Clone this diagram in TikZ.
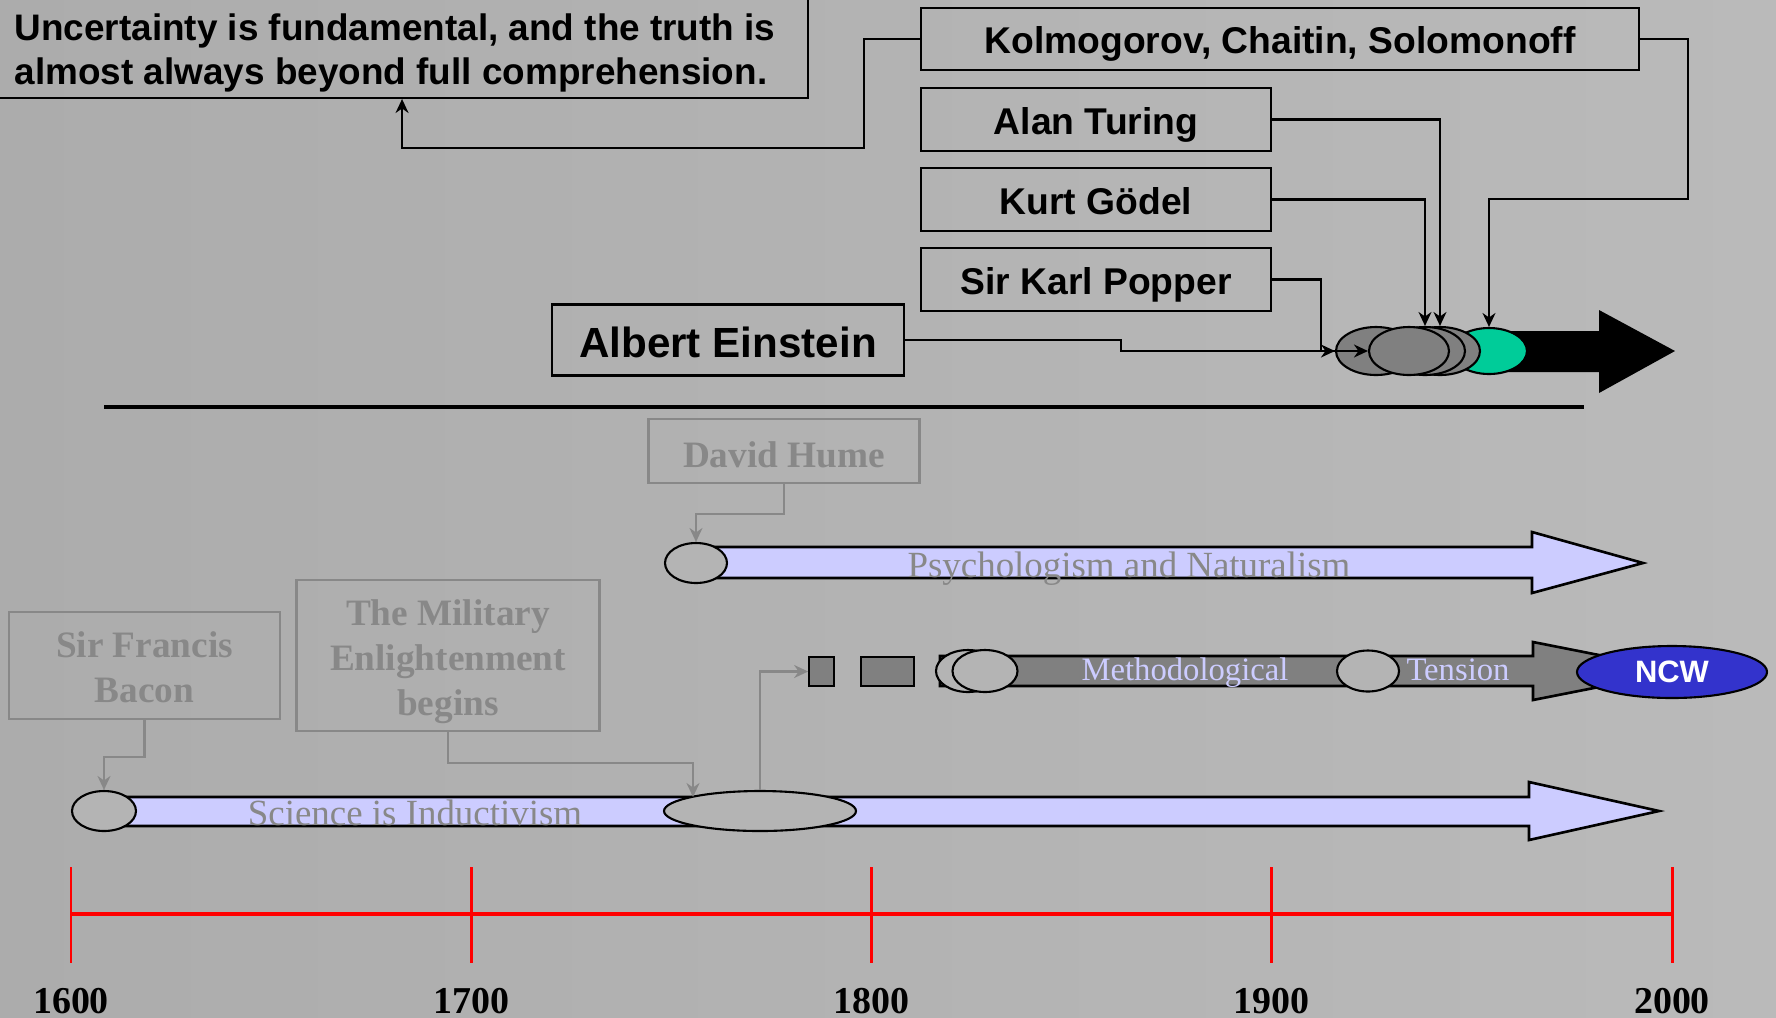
\documentclass[tikz,border=0pt]{standalone}
\usepackage{fontspec}
\setmainfont{Liberation Serif}
\newfontfamily\arialfont{Liberation Sans}
\usetikzlibrary{shapes.geometric,arrows.meta}
\definecolor{bgleft}{RGB}{172,172,172}
\definecolor{bgright}{RGB}{186,186,186}
\definecolor{blobgray}{RGB}{180,180,180}
\definecolor{midgray}{RGB}{128,128,128}
\definecolor{ghost}{RGB}{136,136,136}
\definecolor{lav}{RGB}{204,204,255}
\definecolor{mint}{RGB}{0,204,153}
\definecolor{ncwblue}{RGB}{51,51,204}
\tikzset{namebox/.style={draw=black, line width=0.6pt, inner sep=0pt, text height=8.5pt, text depth=0pt, font=\arialfont\bfseries\fontsize{10.6}{12.5}\selectfont},
         ghostbox/.style={draw=ghost, line width=0.6pt, inner sep=0pt, text=ghost, align=center, text depth=0pt, font=\bfseries\fontsize{10.6}{12.8}\selectfont},
         conn/.style={draw=black, line width=0.6pt, -{Stealth[length=1.4mm,width=1.3mm]}},
         ghostconn/.style={conn, draw=ghost},
         blob/.style={ellipse, draw=black, line width=0.6pt, inner sep=0pt},
         bigarrow/.style={draw=black, line width=0.75pt, line join=miter},
         flowtext/.style={inner sep=0pt, anchor=base, font=\fontsize{10.5}{12}\selectfont}}

\begin{document}
\begin{tikzpicture}[x=0.1mm,y=-0.1mm]
  \useasboundingbox (0,0) rectangle (1776,1017);
  \shade[left color=bgleft, right color=bgright] (0,0) rectangle (1776,1017);

  % upper half
  \node[namebox, minimum width=81.2mm, minimum height=13mm, anchor=south west] (truth) at (-5,99) {};
  \node[anchor=west, align=left, inner sep=0pt, font=\arialfont\bfseries\fontsize{10.5}{12.5}\selectfont] (truthtext) at (14,53)
       {Uncertainty is fundamental, and the truth is\\almost always beyond full comprehension.};
  \node[namebox, minimum width=71.8mm, minimum height=6.2mm] (kcs)    at (1280,39)    {Kolmogorov, Chaitin, Solomonoff};
  \node[namebox, minimum width=35mm,   minimum height=6.3mm] (turing) at (1096,119.5) {Alan Turing};
  \node[namebox, minimum width=35mm,   minimum height=6.3mm] (goedel) at (1096,199.5) {Kurt Gödel};
  \node[namebox, minimum width=35mm,   minimum height=6.3mm] (popper) at (1096,279.5) {Sir Karl Popper};
  \node[namebox, minimum width=35.2mm, minimum height=7.1mm, text height=10.2pt, font=\arialfont\bfseries\fontsize{12}{14}\selectfont] (einstein) at (728,340) {Albert Einstein};

  \fill (1480,331) -- (1599,331) -- (1599,310) -- (1675,351) -- (1599,393) -- (1599,372) -- (1480,372) -- cycle;
  \node[blob, fill=mint,    minimum width=7.6mm, minimum height=4.6mm] (green) at (1489,351) {};
  \node[blob, fill=midgray, minimum width=8mm,   minimum height=4.8mm] (c4)    at (1440,351) {};
  \node[blob, fill=midgray, minimum width=8mm,   minimum height=4.8mm] (c3)    at (1425,351) {};
  \node[blob, fill=midgray, minimum width=8mm,   minimum height=4.8mm] (c1)    at (1376,351) {};
  \node[blob, fill=midgray, minimum width=8mm,   minimum height=4.8mm] (c2)    at (1409,351) {};

  \draw[conn] (kcs.west) -- (864,39) -- (864,148) -| (truth.south);
  \draw[conn] (kcs.east) -| (1688,199) -| (green.north);
  \draw[conn] (turing.east) -| (c4.north);
  \draw[conn] (goedel.east) -| (c3.north);
  \draw[conn] (popper.east) -| (1321,351) -- (c2.west);
  \draw[conn] (einstein.east) -| (1121,351) -- (c1.west);

  \draw[line width=1.4pt] (104,407) -- (1584,407);

  % lower half
  \node[ghostbox, minimum width=27.1mm, minimum height=6.4mm,  text height=9.1pt]  (hume)     at (784,451)     {David Hume};
  \node[ghostbox, minimum width=27.1mm, minimum height=10.7mm, text height=21.3pt] (bacon)    at (144.5,665.5) {Sir Francis\\Bacon};
  \node[ghostbox, minimum width=30.3mm, minimum height=15.1mm, text height=33.9pt] (military) at (448,655.5)   {The Military\\Enlightenment\\begins};

  \draw[bigarrow, fill=lav] (696,547) -- (1532,547) -- (1532,532) -- (1643,563) -- (1532,593) -- (1532,578) -- (696,578) -- cycle;
  \node[blob, fill=blobgray, minimum width=6.2mm, minimum height=4mm] (psyell) at (696,563) {};
  \node[flowtext, text=ghost] (psytext) at (1129,577) {Psychologism and Naturalism};

  \node[draw=black, line width=0.5pt, fill=midgray, minimum width=2.5mm, minimum height=2.9mm, inner sep=0pt] (rect1) at (821.5,671.5) {};
  \node[draw=black, line width=0.5pt, fill=midgray, minimum width=5.3mm, minimum height=2.9mm, inner sep=0pt] (rect2) at (887.5,671.5) {};
  \draw[bigarrow, fill=midgray] (940,656) -- (1533,656) -- (1533,642) -- (1680,671) -- (1533,700) -- (1533,686) -- (940,686) -- cycle;
  \node[blob, fill=blobgray, minimum width=6.4mm, minimum height=4.2mm] (metha) at (968,671) {};
  \node[blob, fill=blobgray, minimum width=6.5mm, minimum height=4.2mm] (methb) at (985,671) {};
  \node[blob, fill=blobgray, minimum width=6.2mm, minimum height=4.1mm] (tens)  at (1368,671) {};
  \node[flowtext, text=lav, font=\fontsize{9.3}{11}\selectfont] (methtext) at (1185,680) {Methodological};
  \node[flowtext, text=lav, font=\fontsize{9.3}{11}\selectfont] (tenstext) at (1458,680) {Tension};
  \node[blob, fill=ncwblue, minimum width=19mm, minimum height=5.2mm, text=white, font=\arialfont\bfseries\fontsize{8.8}{10}\selectfont] (ncw) at (1672,672) {NCW};

  \draw[bigarrow, fill=lav] (104,797) -- (1529,797) -- (1529,782) -- (1659,811) -- (1529,840) -- (1529,826) -- (104,826) -- cycle;
  \node[blob, fill=blobgray, minimum width=6.4mm,  minimum height=4mm] (baconell) at (104,811) {};
  \node[blob, fill=blobgray, minimum width=19.2mm, minimum height=4mm] (bigell)   at (760,811) {};
  \node[flowtext, text=ghost] (scitext) at (415,825) {Science is Inductivism};
  \coordinate (milend) at (693,797);

  \draw[ghostconn] (hume.south) -- ++(0,30) -| (psyell.north);
  \draw[ghostconn] (bacon.south) -- ++(0,37) -| (baconell.north);
  \draw[ghostconn] (military.south) -- ++(0,31) -| (milend);
  \draw[ghostconn] (bigell.north) |- (rect1.west);

  % time axis
  \draw[red, line width=1.4pt] (71,914) -- (1672,914);
  \foreach \yr [count=\i from 0] in {1600,1700,1800,1900,2000} {
    \draw[red, line width=0.85pt] (71+400.25*\i,867) -- (71+400.25*\i,963);
    \node[font=\bfseries\fontsize{10.8}{12}\selectfont, inner sep=0pt] (y\yr) at (71+400.25*\i,1001) {\yr};
  }
\end{tikzpicture}
\end{document}
